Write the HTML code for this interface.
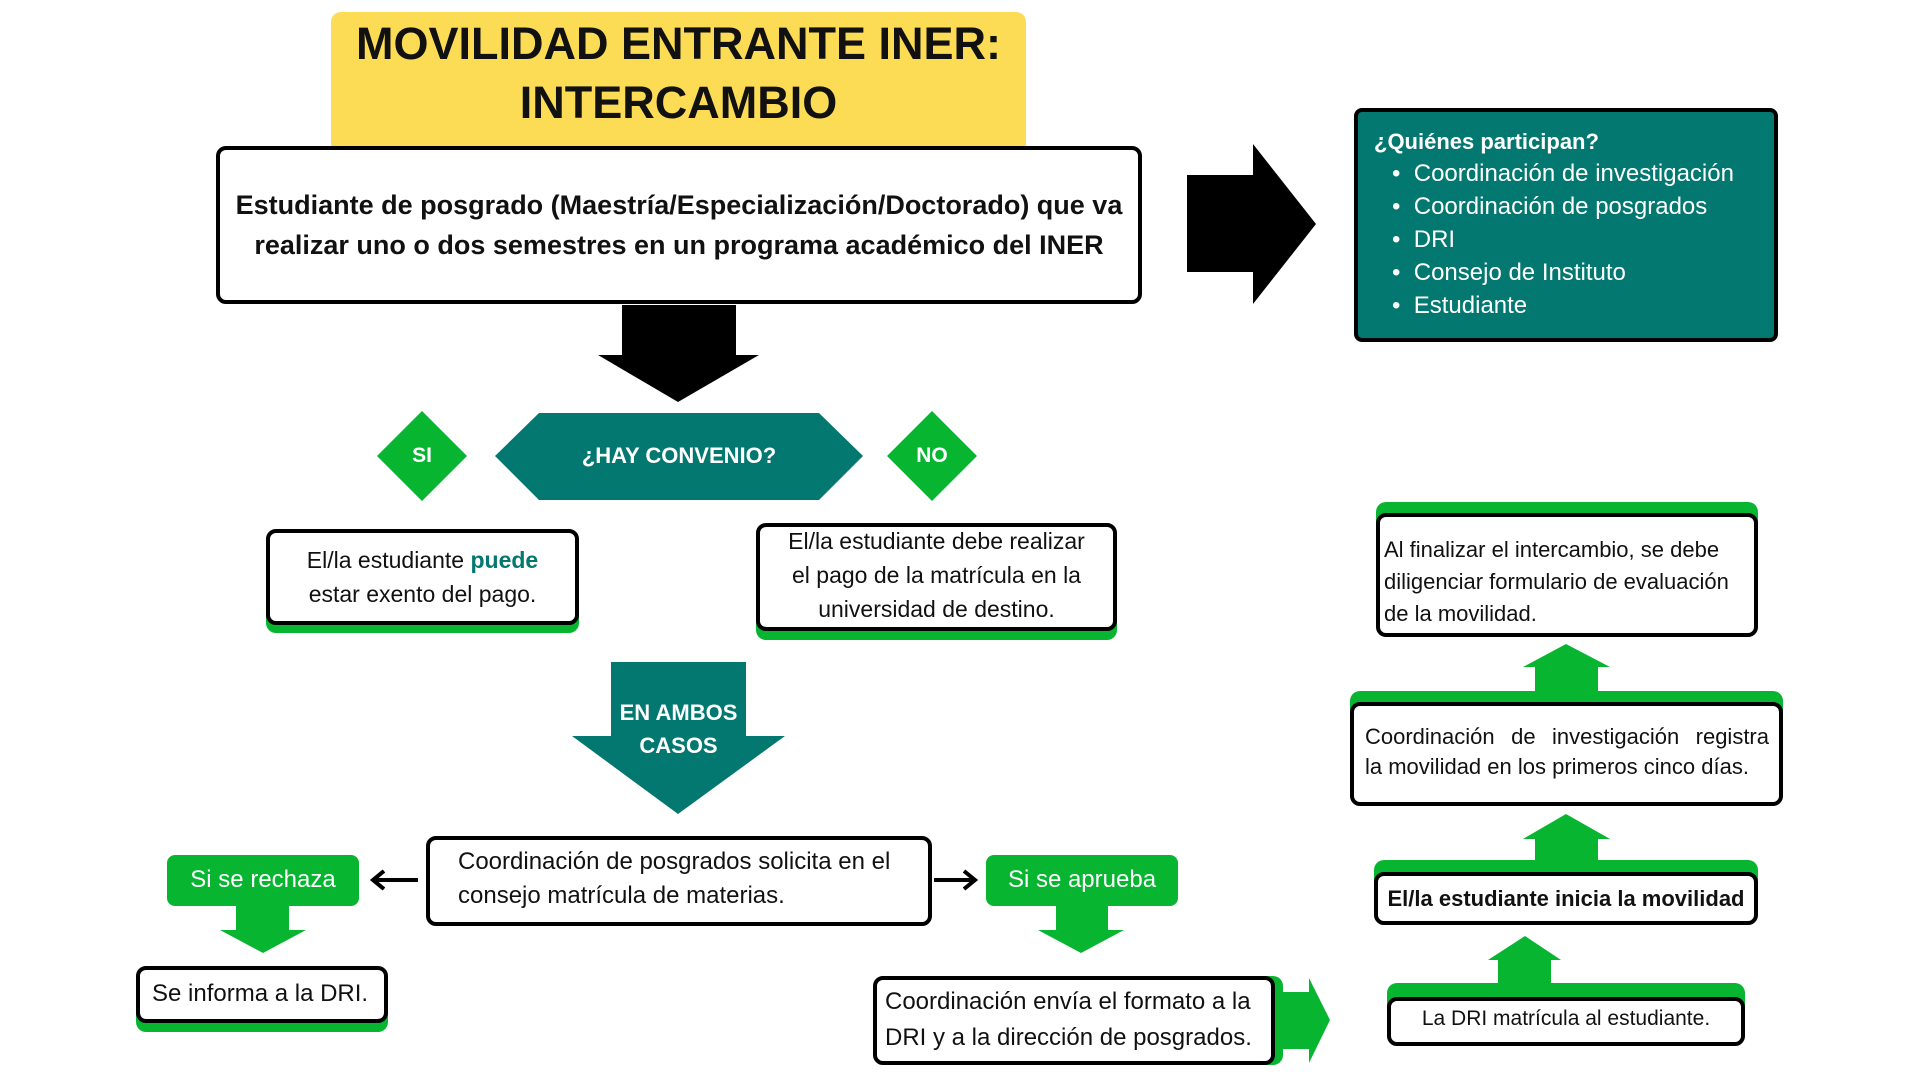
<!DOCTYPE html>
<html><head><meta charset="utf-8"><style>
*{margin:0;padding:0;box-sizing:border-box}
body{width:1920px;height:1080px;background:#fff;position:relative;overflow:hidden;font-family:"Liberation Sans",sans-serif;color:#111}
.a{position:absolute}
.box{position:absolute;background:#fff;border:4px solid #000;border-radius:10px}
.gs{position:absolute;background:#07b531;border-radius:10px}
.t{position:absolute;white-space:nowrap}
svg{position:absolute;left:0;top:0}
</style></head><body>
<svg width="1920" height="1080">
<polygon points="1187,175 1253,175 1253,144 1316,224 1253,304 1253,272 1187,272" fill="#000"/>
<polygon points="622,305 736,305 736,355 759,355 678,402 598,355 622,355" fill="#000"/>
<polygon points="495,456 539,413 819,413 863,456 819,500 539,500" fill="#037870"/>
<polygon points="422,411 467,456 422,501 377,456" fill="#07b531"/>
<polygon points="932,411 977,456 932,501 887,456" fill="#07b531"/>
<polygon points="611,662 746,662 746,736 785,736 678,814 572,736 611,736" fill="#037870"/>
<line x1="418" y1="880" x2="374" y2="880" stroke="#000" stroke-width="4"/>
<polyline points="384,871 373,880 384,889" fill="none" stroke="#000" stroke-width="4"/>
<line x1="934" y1="880" x2="974" y2="880" stroke="#000" stroke-width="4"/>
<polyline points="964,871 975,880 964,889" fill="none" stroke="#000" stroke-width="4"/>
<polygon points="236,906 289,906 289,930 306,930 263,953 220,930 236,930" fill="#07b531"/>
<polygon points="1056,906 1108,906 1108,930 1124,930 1081,953 1038,930 1056,930" fill="#07b531"/>
<polygon points="1283,992 1309,992 1309,978 1330,1020 1309,1063 1309,1049 1283,1049" fill="#07b531"/>
<polygon points="1498,985 1551,985 1551,960 1561,960 1525,936 1488,960 1498,960" fill="#07b531"/>
<polygon points="1535,862 1598,862 1598,839 1610,839 1566,814 1523,839 1535,839" fill="#07b531"/>
<polygon points="1535,693 1598,693 1598,667 1610,667 1566,644 1523,667 1535,667" fill="#07b531"/>
</svg>

<div class="a" style="left:331px;top:12px;width:695px;height:144px;background:#fcdc55;border-radius:10px"></div>
<div class="t" style="left:331px;width:695px;top:14px;text-align:center;font-weight:bold;font-size:45px;line-height:59px">MOVILIDAD ENTRANTE INER:<br>INTERCAMBIO</div>

<div class="box" style="left:216px;top:146px;width:926px;height:158px"></div>
<div class="t" style="left:216px;width:926px;top:185px;text-align:center;font-weight:bold;font-size:27px;line-height:40px">Estudiante de posgrado (Maestría/Especialización/Doctorado) que va<br>realizar uno o dos semestres en un programa académico del INER</div>

<div class="a" style="left:1354px;top:108px;width:424px;height:234px;background:#037870;border:4px solid #000;border-radius:8px"></div>
<div class="t" style="left:1374px;top:125px;color:#fff;font-size:22px;line-height:33px"><b>¿Quiénes participan?</b></div>
<div class="t" style="left:1392px;top:157px;color:#fff;font-size:24px;line-height:33px">•&nbsp;&nbsp;Coordinación de investigación<br>•&nbsp;&nbsp;Coordinación de posgrados<br>•&nbsp;&nbsp;DRI<br>•&nbsp;&nbsp;Consejo de Instituto<br>•&nbsp;&nbsp;Estudiante</div>

<div class="t" style="left:495px;width:368px;top:443px;text-align:center;color:#fff;font-weight:bold;font-size:22px">¿HAY CONVENIO?</div>
<div class="t" style="left:382px;width:80px;top:444px;text-align:center;color:#fff;font-weight:bold;font-size:21px">SI</div>
<div class="t" style="left:892px;width:80px;top:444px;text-align:center;color:#fff;font-weight:bold;font-size:21px">NO</div>

<div class="gs" style="left:266px;top:540px;width:313px;height:93px"></div>
<div class="box" style="left:266px;top:529px;width:313px;height:96px"></div>
<div class="t" style="left:266px;width:313px;top:543px;text-align:center;font-size:23px;line-height:34px">El/la estudiante <b style="color:#037870">puede</b><br>estar exento del pago.</div>

<div class="gs" style="left:756px;top:540px;width:361px;height:100px"></div>
<div class="box" style="left:756px;top:523px;width:361px;height:108px"></div>
<div class="t" style="left:756px;width:361px;top:524px;text-align:center;font-size:23px;line-height:34px">El/la estudiante debe realizar<br>el pago de la matrícula en la<br>universidad de destino.</div>

<div class="t" style="left:611px;width:135px;top:696px;text-align:center;color:#fff;font-weight:bold;font-size:22px;line-height:33px">EN AMBOS<br>CASOS</div>

<div class="box" style="left:426px;top:836px;width:506px;height:90px"></div>
<div class="t" style="left:458px;top:845px;font-size:24px;line-height:34px">Coordinación de posgrados solicita en el<br>consejo matrícula de materias.</div>

<div class="a" style="left:167px;top:855px;width:192px;height:51px;background:#07b531;border-radius:8px"></div>
<div class="t" style="left:167px;width:192px;top:866px;text-align:center;color:#fff;font-size:24px">Si se rechaza</div>
<div class="a" style="left:986px;top:855px;width:192px;height:51px;background:#07b531;border-radius:8px"></div>
<div class="t" style="left:986px;width:192px;top:866px;text-align:center;color:#fff;font-size:24px">Si se aprueba</div>

<div class="gs" style="left:136px;top:975px;width:252px;height:57px"></div>
<div class="box" style="left:136px;top:966px;width:252px;height:57px"></div>
<div class="t" style="left:152px;top:980px;font-size:24px">Se informa a la DRI.</div>

<div class="gs" style="left:885px;top:976px;width:398px;height:89px"></div>
<div class="box" style="left:873px;top:976px;width:402px;height:89px"></div>
<div class="t" style="left:885px;top:984px;font-size:24px;line-height:36px">Coordinación envía el formato a la<br>DRI y a la dirección de posgrados.</div>

<div class="gs" style="left:1376px;top:502px;width:382px;height:60px"></div>
<div class="box" style="left:1376px;top:513px;width:382px;height:124px"></div>
<div class="t" style="left:1384px;top:534px;font-size:22px;line-height:32px">Al finalizar el intercambio, se debe<br>diligenciar formulario de evaluación<br>de la movilidad.</div>

<div class="gs" style="left:1350px;top:691px;width:433px;height:60px"></div>
<div class="box" style="left:1350px;top:702px;width:433px;height:104px"></div>
<div class="t" style="left:1365px;top:722px;width:404px;font-size:22px;line-height:30px;text-align:justify;text-align-last:justify;white-space:normal">Coordinación de investigación registra</div>
<div class="t" style="left:1365px;top:752px;font-size:22px;line-height:30px">la movilidad en los primeros cinco días.</div>

<div class="gs" style="left:1374px;top:860px;width:384px;height:40px"></div>
<div class="box" style="left:1374px;top:872px;width:384px;height:53px"></div>
<div class="t" style="left:1374px;width:384px;top:886px;text-align:center;font-weight:bold;font-size:22px">El/la estudiante inicia la movilidad</div>

<div class="gs" style="left:1387px;top:983px;width:358px;height:40px"></div>
<div class="box" style="left:1387px;top:997px;width:358px;height:49px"></div>
<div class="t" style="left:1387px;width:358px;top:1007px;text-align:center;font-size:21px">La DRI matrícula al estudiante.</div>
</body></html>
